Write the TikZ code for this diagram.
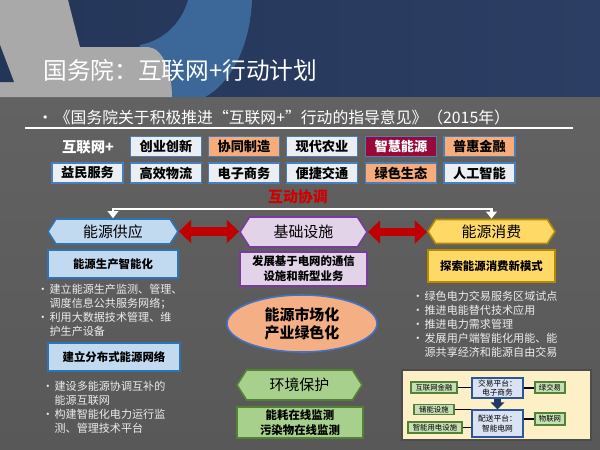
\documentclass[tikz,border=0pt]{standalone}
\usepackage{fontspec}
\newfontfamily\cjk{Noto Sans CJK SC}
\usetikzlibrary{positioning, shapes.geometric, shapes.symbols, arrows.meta}

\definecolor{bgnavy}{HTML}{243658}
\definecolor{bgnavyr}{HTML}{2C3E63}
\definecolor{bggray}{HTML}{626262}
\definecolor{bggrayd}{HTML}{585858}
\definecolor{logogray}{HTML}{A9A9A9}
\definecolor{logoblue}{HTML}{3C6899}
\definecolor{cellfill}{HTML}{EBEEF2}
\definecolor{cellline}{HTML}{4A7EBB}
\definecolor{hotfill}{HTML}{F7AC7A}
\definecolor{winefill}{HTML}{98093A}
\definecolor{hexbluefill}{HTML}{C2DAF0}
\definecolor{hexblueline}{HTML}{2E74B5}
\definecolor{purplefill}{HTML}{E2D3E8}
\definecolor{purpleline}{HTML}{7A3B9C}
\definecolor{goldfill}{HTML}{FFD966}
\definecolor{goldline}{HTML}{B58A00}
\definecolor{ellfill}{HTML}{F4B084}
\definecolor{ellline}{HTML}{4472C4}
\definecolor{greenfill}{HTML}{A8D08D}
\definecolor{greenline}{HTML}{548235}
\definecolor{arrowred}{HTML}{C00000}
\definecolor{linkred}{HTML}{D00000}
\definecolor{notegray}{HTML}{EDEDED}
\definecolor{panelfill}{HTML}{FDF0C6}
\definecolor{minifill}{HTML}{C5E0B4}
\definecolor{platfill}{HTML}{DAE3F3}
\definecolor{platline}{HTML}{2F5597}
\definecolor{darkarrow}{HTML}{1F3864}

\newcommand\notedot{\makebox[7pt][l]{•}}
\newcommand\noteindent{\hspace*{7pt}}

\begin{document}
\begin{tikzpicture}[x=0.02cm, y=-0.02cm,
    cell/.style={draw=cellline, line width=0.8pt, fill=cellfill, minimum width=1.42cm, minimum height=0.4cm, inner sep=0pt, font=\cjk\bfseries\fontsize{7.5}{9}\selectfont},
    cellhot/.style={cell, fill=hotfill},
    cellwine/.style={cell, fill=winefill, text=white},
    hexa/.style={signal, signal to=west and east, signal pointer angle=115, line width=0.9pt, inner sep=0pt, font=\cjk\fontsize{8.5}{10}\selectfont},
    subbox/.style={draw, line width=0.9pt, inner sep=0pt, align=center, font=\cjk\bfseries\fontsize{6.5}{8.5}\selectfont},
    note/.style={anchor=north west, inner sep=0pt, align=left, text=notegray, font=\cjk\fontsize{6.3}{8}\selectfont},
    mini/.style={draw=greenline, fill=minifill, line width=0.6pt, inner sep=0pt, font=\cjk\fontsize{4.2}{5}\selectfont},
    plat/.style={draw=platline, fill=platfill, line width=0.6pt, inner sep=0pt, align=center, font=\cjk\fontsize{4.4}{5.6}\selectfont},
    bigarrow/.style={line width=5pt, draw=arrowred, {Triangle[length=7pt,width=13pt]}-{Triangle[length=7pt,width=13pt]}},
    link/.style={draw=white, line width=1.5pt, {Triangle[length=4pt,width=6pt]}-{Triangle[length=4pt,width=6pt]}},
    wire/.style={draw=black, line width=0.6pt}]
    \useasboundingbox (0,0) rectangle (600,450);

    % 1. Background and logo
    \shade[left color=bgnavy, right color=bgnavyr] (0,0) rectangle (600,97);
    \shade[top color=bggray, bottom color=bggrayd] (0,97) rectangle (600,450);
    \fill[logoblue] (188,0) -- (252,0) .. controls (250,50) and (228,85) .. (205,97) -- (140,97) -- (140,45) .. controls (165,40) and (182,22) .. (188,0) -- cycle;
    \fill[logogray] (0,0) -- (68,0) -- (80,47) -- (148,47) .. controls (163,48) and (172,72) .. (172,97) -- (0,97) -- cycle;
    \fill[bgnavy] (0,45) -- (14,82) -- (0,82) -- cycle;

    % 2. Title and subtitle
    \node[anchor=west, inner sep=0pt, text=white, font=\cjk\fontsize{13.5}{16}\selectfont] (title) at (43,70) {国务院：互联网+行动计划};
    \node[anchor=west, inner sep=0pt, text=white, font=\cjk\fontsize{9}{11}\selectfont] (subtitle) at (37,117) {•\hspace{1pt}《国务院关于积极推进“互联网+”行动的指导意见》（2015年）};
    \draw[white, line width=1pt] (25,128) -- (573,128);

    % 3. Action fields
    \node[text=white, font=\cjk\bfseries\fontsize{8.2}{10}\selectfont] (hlw) at (88,147) {互联网+};
    \node[cell] (cycx) at (166,146.5) {创业创新};
    \node[cellhot] (xtzz) at (244,146.5) {协同制造};
    \node[cell] (xdny) at (322,146.5) {现代农业};
    \node[cellwine] (zhny) at (401,146.5) {智慧能源};
    \node[cellhot] (phjr) at (479.5,146.5) {普惠金融};
    \node[cell] (ymfw) at (87.5,173) {益民服务};
    \node[cell] (gxwl) at (166,173) {高效物流};
    \node[cell] (dzsw) at (244,173) {电子商务};
    \node[cell] (bjjt) at (322,173) {便捷交通};
    \node[cellhot] (lsst) at (401,173) {绿色生态};
    \node[cell] (rgzn) at (479.5,173) {人工智能};

    % 4. Supply, infrastructure, consumption
    \node[text=linkred, font=\cjk\bfseries\fontsize{8.5}{10}\selectfont] (hdxt) at (298,197) {互动协调};
    \coordinate (bus) at (298,209);
    \node[hexa, draw=hexblueline, fill=hexbluefill, minimum width=2.6cm, minimum height=0.5cm] (gy) at (113,231.5) {能源供应};
    \node[hexa, draw=purpleline, fill=purplefill, minimum width=2.54cm, minimum height=0.6cm] (jc) at (303.5,232) {基础设施};
    \node[hexa, draw=goldline, fill=goldfill, minimum width=2.54cm, minimum height=0.48cm] (xf) at (491.5,231.5) {能源消费};
    \draw[link] (gy.north) |- (bus) -| (xf.north);
    \draw[bigarrow] (gy.east) -- (gy.east -| jc.west);
    \draw[bigarrow] (jc.east) -- (jc.east -| xf.west);

    \node[subbox, draw=hexblueline, fill=hexbluefill, minimum width=2.6cm, minimum height=0.56cm] (gy2) at (113,264) {能源生产智能化};
    \node[subbox, draw=purpleline, fill=purplefill, minimum width=2.54cm, minimum height=0.68cm] (jc2) at (303.5,269) {发展基于电网的通信\\设施和新型业务};
    \node[subbox, draw=goldline, fill=goldfill, minimum width=2.54cm, minimum height=0.64cm] (xf2) at (491.5,266) {探索能源消费新模式};

    % 5. Notes
    \node[note] (gynote) at (37,284) {\notedot 建立能源生产监测、管理、\\\noteindent 调度信息公共服务网络；\\\notedot 利用大数据技术管理、维\\\noteindent 护生产设备};
    \node[subbox, draw=hexblueline, fill=hexbluefill, minimum width=2.64cm, minimum height=0.56cm] (gy3) at (114,357) {建立分布式能源网络};
    \node[note] (gy3note) at (42,381) {\notedot 建设多能源协调互补的\\\noteindent 能源互联网\\\notedot 构建智能化电力运行监\\\noteindent 测、管理技术平台};
    \node[note] (xfnote) at (412,291) {\notedot 绿色电力交易服务区域试点\\\notedot 推进电能替代技术应用\\\notedot 推进电力需求管理\\\notedot 发展用户端智能化用能、能\\\noteindent 源共享经济和能源自由交易};

    % 6. Market and environment
    \node[ellipse, draw=ellline, fill=ellfill, line width=0.9pt, minimum width=3cm, minimum height=1.14cm, inner sep=0pt, align=center, font=\cjk\bfseries\fontsize{8.5}{10.3}\selectfont] (mkt) at (302,323.5) {能源市场化\\产业绿色化};
    \node[hexa, draw=greenline, fill=greenfill, minimum width=2.5cm, minimum height=0.6cm] (hj) at (299.5,385) {环境保护};
    \node[subbox, draw=greenline, fill=greenfill, minimum width=2.52cm, minimum height=0.62cm] (hj2) at (300,422.5) {能耗在线监测\\污染物在线监测};

    % 7. Platform panel
    \node[draw=black!70, fill=panelfill, line width=1pt, minimum width=3.78cm, minimum height=1.4cm, inner sep=0pt] (panel) at (496.5,405) {};
    \node[mini, minimum width=0.92cm, minimum height=0.22cm] (jr) at (434,387.5) {互联网金融};
    \node[plat, minimum width=1.02cm, minimum height=0.4cm] (jy) at (497.5,388) {交易平台：\\电子商务};
    \node[mini, minimum width=0.6cm, minimum height=0.22cm] (lj) at (550,387.5) {绿交易};
    \node[mini, minimum width=0.8cm, minimum height=0.2cm] (cn) at (434,409.5) {储能设施};
    \node[plat, minimum width=1.02cm, minimum height=0.54cm] (ps) at (497.5,423.5) {配送平台：\\智能电网};
    \node[mini, minimum width=1.08cm, minimum height=0.22cm] (zn) at (435,427.5) {智能用电设施};
    \node[mini, minimum width=0.6cm, minimum height=0.24cm] (wl) at (550,419) {物联网};
    \draw[wire] (jr.east) -- (jr.east -| jy.west);
    \draw[wire] (jy.east) -- (jy.east -| lj.west);
    \draw[wire] (cn.east) -- (cn.east -| ps.west);
    \draw[wire] (zn.east) -- (zn.east -| ps.west);
    \draw[wire] (wl.west -| ps.east) -- (wl.west);
    \draw[line width=3.5pt, draw=darkarrow, -{Triangle[length=4pt,width=7.5pt]}] (jy.south) -- (ps.north);
\end{tikzpicture}
\end{document}
